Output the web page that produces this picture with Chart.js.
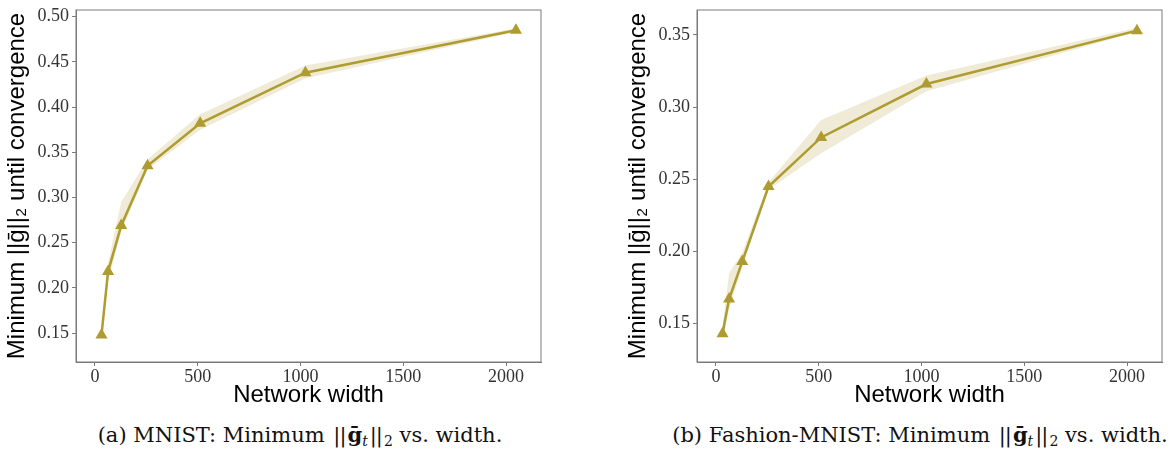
<!DOCTYPE html>
<html>
<head>
<meta charset="utf-8">
<script src="https://cdn.jsdelivr.net/npm/chart.js@4.4.1/dist/chart.umd.min.js"></script>
<style>
  body { margin: 0; background: #fff; width: 1175px; height: 457px; position: relative; overflow: hidden; }
  .box { position: absolute; top: 0; width: 553px; height: 420px; }
  .cap { position: absolute; top: 422px; font-family: "DejaVu Serif", serif; font-size: 21px; color: #111; white-space: nowrap; transform: translateX(-50%); }
  .cap sub { font-size: 14px; vertical-align: -4px; line-height: 0; }
  .nrm { letter-spacing: -1px; margin: 0 2px; }
</style>
</head>
<body>
<div class="box" style="left:0"><canvas id="mnistChart"></canvas></div>
<div class="box" style="left:621px"><canvas id="fashionChart"></canvas></div>
<div class="cap" style="left:300px">(a) MNIST: Minimum <span class="nrm">||</span><b>ḡ</b><sub><i>t</i></sub><span class="nrm">||</span><sub>2</sub> vs. width.</div>
<div class="cap" style="left:920px">(b) Fashion-MNIST: Minimum <span class="nrm">||</span><b>ḡ</b><sub><i>t</i></sub><span class="nrm">||</span><sub>2</sub> vs. width.</div>
<script>
// anchos de red (eje x)
const widths = [32, 64, 128, 256, 512, 1024, 2048];
const xTicks = [0, 500, 1000, 1500, 2000];

// MNIST
const mnistMean = [0.148, 0.218, 0.269, 0.335, 0.382, 0.438, 0.485];
const mnistLow  = [0.142, 0.208, 0.262, 0.331, 0.375, 0.432, 0.483];
const mnistHigh = [0.154, 0.228, 0.295, 0.342, 0.392, 0.446, 0.487];
const mnistYTicks = [0.15, 0.20, 0.25, 0.30, 0.35, 0.40, 0.45, 0.50];

// Fashion-MNIST
const fashionMean = [0.143, 0.167, 0.193, 0.245, 0.279, 0.316, 0.353];
const fashionLow  = [0.138, 0.160, 0.189, 0.243, 0.268, 0.311, 0.352];
const fashionHigh = [0.148, 0.185, 0.199, 0.248, 0.291, 0.322, 0.355];
const fashionYTicks = [0.15, 0.20, 0.25, 0.30, 0.35];

const OLIVE = '#ae9c30';
const BAND = 'rgba(174,156,48,0.2)';

const toPts = ys => widths.map((w, i) => ({ x: w, y: ys[i] }));

// marco gris alrededor del área de trazado
const framePlugin = {
    id: 'frame',
    beforeDatasetsDraw(chart) {
        const a = chart.chartArea, c = chart.ctx;
        c.save();
        c.strokeStyle = '#7a7a7a';
        c.lineWidth = 1;
        c.strokeRect(a.left, a.top, a.right - a.left, a.bottom - a.top);
        c.restore();
    }
};

function makeChart(id, mean, low, high, yTicks, yMin, yMax) {
    const ctx = document.getElementById(id).getContext('2d');
    return new Chart(ctx, {
        type: 'line',
        data: {
            datasets: [
                {
                    data: toPts(mean),
                    borderColor: OLIVE,
                    backgroundColor: OLIVE,
                    borderWidth: 2.5,
                    pointStyle: 'triangle',
                    pointRadius: 7,
                    pointBorderWidth: 0,
                    fill: false
                },
                {
                    data: toPts(high),
                    borderWidth: 0,
                    pointRadius: 0,
                    backgroundColor: BAND,
                    fill: '+1'
                },
                {
                    data: toPts(low),
                    borderWidth: 0,
                    pointRadius: 0,
                    fill: false
                }
            ]
        },
        options: {
            responsive: false,
            animation: false,
            layout: { padding: { top: 10, right: 12, bottom: 0, left: 0 } },
            plugins: { legend: { display: false }, tooltip: { enabled: false } },
            scales: {
                x: {
                    type: 'linear',
                    min: -92,
                    max: 2170,
                    afterBuildTicks: s => { s.ticks = xTicks.map(v => ({ value: v })); },
                    afterFit: s => { s.height = 58; s.paddingLeft = 0; s.paddingRight = 0; },
                    grid: { drawOnChartArea: false, tickLength: 4, color: '#7a7a7a' },
                    border: { color: '#7a7a7a' },
                    ticks: {
                        font: { family: 'Liberation Serif', size: 18 },
                        color: '#333',
                        padding: 0,
                        maxRotation: 0,
                        callback: v => String(v)
                    },
                    title: {
                        display: true,
                        text: 'Network width',
                        font: { family: 'Liberation Sans', size: 24 },
                        color: '#000',
                        padding: { top: 0, bottom: 10 }
                    }
                },
                y: {
                    min: yMin,
                    max: yMax,
                    afterBuildTicks: s => { s.ticks = yTicks.map(v => ({ value: v })); },
                    afterFit: s => { s.width = 76; s.paddingTop = 0; s.paddingBottom = 0; },
                    grid: { drawOnChartArea: false, tickLength: 4, color: '#7a7a7a' },
                    border: { color: '#7a7a7a' },
                    ticks: {
                        font: { family: 'Liberation Serif', size: 18 },
                        color: '#333',
                        padding: 3,
                        callback: v => v.toFixed(2)
                    },
                    title: {
                        display: true,
                        text: 'Minimum ||ḡ||₂ until convergence',
                        font: { family: 'Liberation Sans', size: 24 },
                        color: '#000',
                        padding: { top: 3, bottom: 0 }
                    }
                }
            }
        },
        plugins: [framePlugin]
    });
}

for (const id of ['mnistChart', 'fashionChart']) {
    const cv = document.getElementById(id);
    cv.width = 553; cv.height = 420;
}
makeChart('mnistChart', mnistMean, mnistLow, mnistHigh, mnistYTicks, 0.118, 0.5074);
makeChart('fashionChart', fashionMean, fashionLow, fashionHigh, fashionYTicks, 0.1234, 0.3673);
</script>
</body>
</html>
